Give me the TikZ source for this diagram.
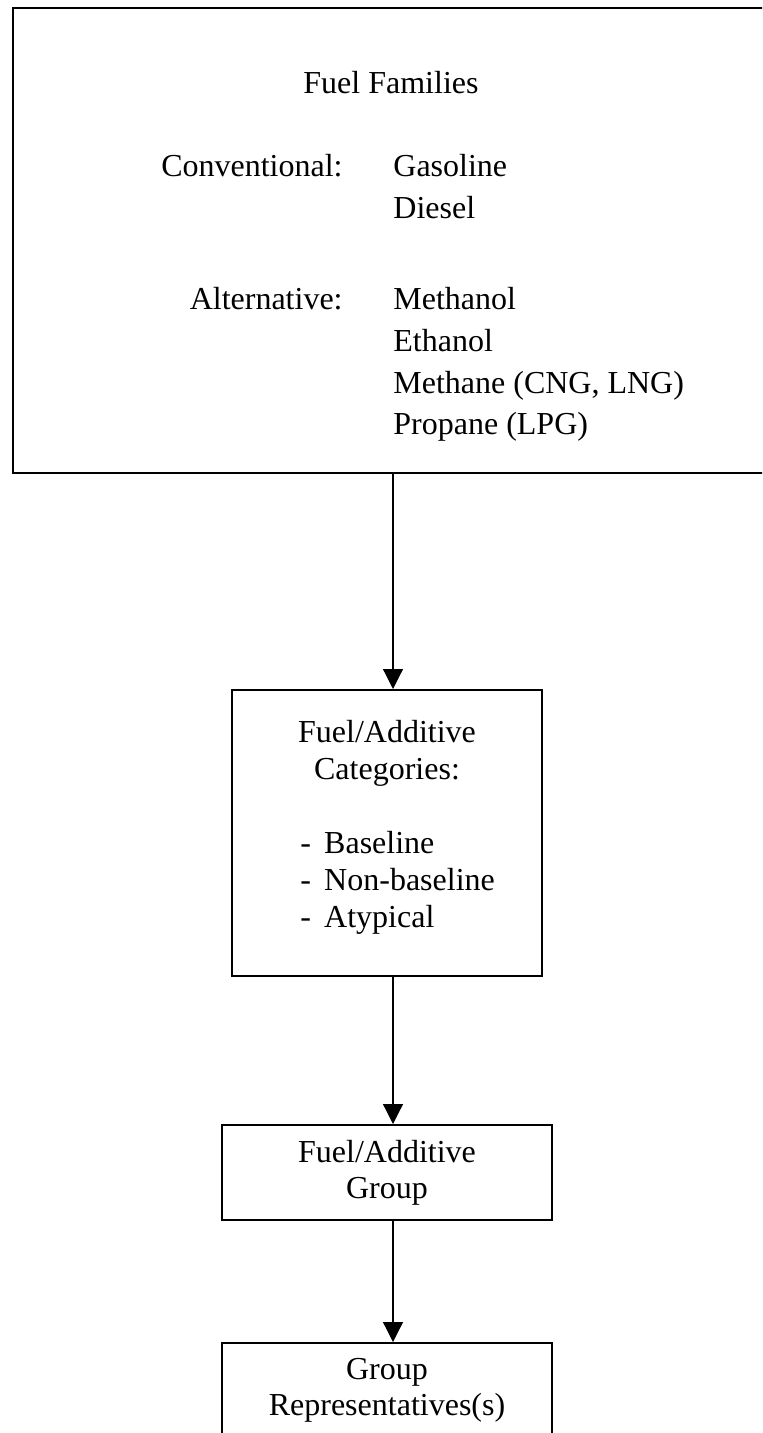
\documentclass[tikz,border=0pt]{standalone}
\usepackage{fontspec}
\setmainfont{Liberation Serif}
\usetikzlibrary{arrows.meta, positioning}

\begin{document}
\begin{tikzpicture}[
    x=0.5pt, y=-0.5pt,
    font=\fontsize{16}{18.5}\selectfont,
    box/.style={draw, line width=0.8pt, inner sep=0pt, align=center},
    topbox/.style={box, line width=1pt},
    lbl/.style={inner sep=0pt},
    wide/.style={font=\fontsize{16}{20.8}\selectfont},
    arr/.style={-{Triangle[width=10pt,length=10pt]}, line width=0.6pt}
  ]
    \clip (0,0) rectangle (762,1433);

    % fuel families
    \node[topbox, minimum width=380pt, minimum height=232.5pt, anchor=north west] (families) at (12,7) {};
    \node[lbl, anchor=base] (famtitle) at (391,94) {Fuel Families};
    \node[lbl, anchor=base east] (conv) at (343,177) {Conventional:};
    \node[lbl, wide, anchor=base west] (convlist) at (393,177) {\begin{tabular}[t]{@{}l@{}}Gasoline\\Diesel\end{tabular}};
    \node[lbl, anchor=base east] (alt) at (343,310) {Alternative:};
    \node[lbl, wide, anchor=base west] (altlist) at (393,310) {\begin{tabular}[t]{@{}l@{}}Methanol\\Ethanol\\Methane (CNG, LNG)\\Propane (LPG)\end{tabular}};

    % categories
    \node[box, minimum width=155pt, minimum height=143pt, anchor=north] (cat) at (387,689) {};
    \node[lbl, anchor=base] (cattitle) at (387,742) {\begin{tabular}[t]{@{}c@{}}Fuel/Additive\\Categories:\end{tabular}};
    \node[lbl, anchor=base west] (catlist) at (300,853) {\begin{tabular}[t]{@{}l@{\hspace{6.6pt}}l@{}}-&Baseline\\-&Non-baseline\\-&Atypical\end{tabular}};

    % group and representatives
    \node[box, font=\fontsize{16}{18}\selectfont, minimum width=165pt, minimum height=47.5pt, anchor=north] (group) at (387,1124) {Fuel/Additive\\Group};
    \node[box, font=\fontsize{16}{18}\selectfont, minimum width=165pt, minimum height=47.5pt, anchor=north] (rep) at (387,1342) {Group\\Representatives(s)};

    \draw[arr] (families.south) -- (families.south |- cat.north);
    \draw[arr] (families.south |- cat.south) -- (families.south |- group.north);
    \draw[arr] (families.south |- group.south) -- (families.south |- rep.north);
\end{tikzpicture}
\end{document}
